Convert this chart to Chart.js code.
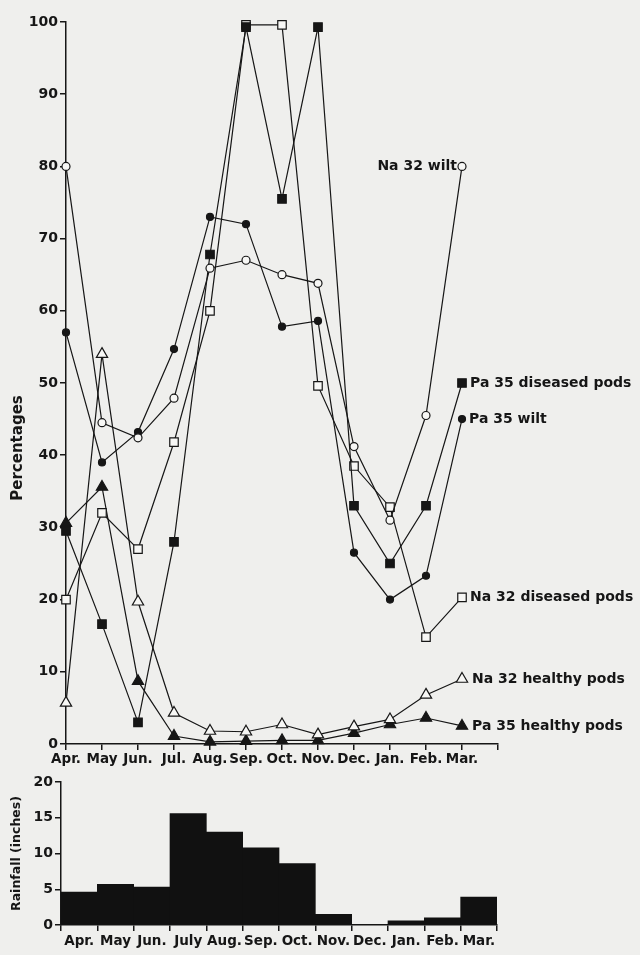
<!DOCTYPE html>
<html lang="en">
<head>
    <meta charset="UTF-8">
    <title>Wilt and pod disease with rainfall</title>
    <script src="https://cdn.jsdelivr.net/npm/chart.js@4"></script>
    <style>
        body { margin: 0; background: #efefed; }
        .chart-box { position: absolute; left: 0; }
        #boxTop { top: 0; }
        #boxBottom { top: 760px; }
    </style>
</head>
<body>
    <div class="chart-box" id="boxTop"><canvas id="chartPct" width="640" height="772"></canvas></div>
    <div class="chart-box" id="boxBottom"><canvas id="chartRain" width="640" height="195"></canvas></div>

    <script>
        const months = ["Apr.", "May", "Jun.", "Jul.", "Aug.", "Sep.", "Oct.", "Nov.", "Dec.", "Jan.", "Feb.", "Mar.", ""];
        const rainMonths = ["Apr.", "May", "Jun.", "July", "Aug.", "Sep.", "Oct.", "Nov.", "Dec.", "Jan.", "Feb.", "Mar."];

        const na32Wilt     = [80, 44.5, 42.4, 47.9, 65.9, 67, 65, 63.8, 41.2, 31, 45.5, 80];
        const pa35Wilt     = [57, 39, 43.2, 54.7, 73, 72, 57.8, 58.6, 26.5, 20, 23.3, 45];
        const pa35Diseased = [29.5, 16.6, 3, 28, 67.8, 99.3, 75.5, 99.3, 33, 25, 33, 50];
        const na32Diseased = [20, 32, 27, 41.8, 60, 99.6, 99.6, 49.6, 38.5, 32.8, 14.8, 20.3];
        const na32Healthy  = [5.7, 54, 19.7, 4.3, 1.8, 1.7, 2.7, 1.3, 2.4, 3.4, 6.8, 9];
        const pa35Healthy  = [30.6, 35.6, 8.7, 1.1, 0.3, 0.4, 0.5, 0.5, 1.5, 2.7, 3.6, 2.5];

        const rainfall = [4.6, 5.7, 5.3, 15.6, 13.0, 10.8, 8.6, 1.5, 0, 0.6, 1.0, 3.9];

        const ink = "#161616";
        const fam = "'DejaVu Sans', sans-serif";

        // series names written next to the last point
        const seriesLabels = {
            id: "seriesLabels",
            afterDatasetsDraw(chart) {
                const ctx = chart.ctx;
                ctx.save();
                ctx.font = "bold 14px " + fam;
                ctx.fillStyle = ink;
                ctx.textBaseline = "middle";
                chart.data.datasets.forEach((ds, i) => {
                    const pts = chart.getDatasetMeta(i).data;
                    const p = pts[pts.length - 1];
                    if (ds.labelLeft) {
                        ctx.textAlign = "right";
                        ctx.fillText(ds.label, p.x - ds.labelGap, p.y);
                    } else {
                        ctx.textAlign = "left";
                        ctx.fillText(ds.label, p.x + ds.labelGap, p.y);
                    }
                });
                ctx.restore();
            }
        };

        // rotated y title, centred on a chosen value
        const yTitle = {
            id: "yTitle",
            afterDraw(chart, args, opts) {
                const ctx = chart.ctx;
                const y = chart.scales.y.getPixelForValue(opts.at);
                ctx.save();
                ctx.translate(opts.x, y);
                ctx.rotate(-Math.PI / 2);
                ctx.font = "bold " + opts.size + "px " + fam;
                ctx.fillStyle = ink;
                ctx.textAlign = "center";
                ctx.textBaseline = "middle";
                ctx.fillText(opts.text, 0, 0);
                ctx.restore();
            }
        };

        function serie(label, data, style, fill, radius, gap, left) {
            return {
                label: label,
                data: data,
                borderColor: ink,
                borderWidth: 1.2,
                tension: 0,
                clip: false,
                pointStyle: style,
                pointRadius: radius,
                pointHoverRadius: radius,
                pointBorderWidth: 1.2,
                pointBorderColor: ink,
                pointBackgroundColor: fill ? ink : "#f7f7f5",
                labelGap: gap,
                labelLeft: !!left
            };
        }

        new Chart(document.getElementById("chartPct"), {
            type: "line",
            data: {
                labels: months,
                datasets: [
                    serie("Na 32 wilt", na32Wilt, "circle", false, 4, 5, true),
                    serie("Pa 35 wilt", pa35Wilt, "circle", true, 3.5, 7),
                    serie("Pa 35 diseased pods", pa35Diseased, "rect", true, 6, 8),
                    serie("Na 32 diseased pods", na32Diseased, "rect", false, 6, 8),
                    serie("Na 32 healthy pods", na32Healthy, "triangle", false, 6.5, 10),
                    serie("Pa 35 healthy pods", pa35Healthy, "triangle", true, 6.5, 10)
                ]
            },
            options: {
                responsive: false,
                animation: false,
                layout: { padding: { top: 22, right: 142, left: 0, bottom: 0 } },
                plugins: {
                    legend: { display: false },
                    tooltip: { enabled: false },
                    yTitle: { text: "Percentages", at: 41, x: 18, size: 15 }
                },
                scales: {
                    x: {
                        type: "category",
                        offset: false,
                        afterFit: s => { s.height = 28; },
                        border: { color: ink, width: 1.5 },
                        grid: { drawOnChartArea: false, tickLength: 6, color: ink, lineWidth: 1.5 },
                        ticks: { color: ink, autoSkip: false, maxRotation: 0, padding: 1, font: { family: fam, size: 13.5, weight: "bold" } }
                    },
                    y: {
                        min: 0,
                        max: 100,
                        afterFit: s => { s.width = 66; },
                        border: { color: ink, width: 1.5 },
                        grid: { drawOnChartArea: false, tickLength: 6, color: ink, lineWidth: 1.5 },
                        ticks: { stepSize: 10, color: ink, padding: 2, font: { family: fam, size: 14, weight: "bold" } }
                    }
                }
            },
            plugins: [seriesLabels, yTitle]
        });

        new Chart(document.getElementById("chartRain"), {
            type: "bar",
            data: {
                labels: rainMonths,
                datasets: [{
                    label: "Rainfall",
                    data: rainfall,
                    backgroundColor: "#111",
                    borderWidth: 0,
                    barPercentage: 1,
                    categoryPercentage: 1
                }]
            },
            options: {
                responsive: false,
                animation: false,
                layout: { padding: { top: 22, right: 143, left: 0, bottom: 0 } },
                plugins: {
                    legend: { display: false },
                    tooltip: { enabled: false },
                    yTitle: { text: "Rainfall (inches)", at: 10, x: 17, size: 12.5 }
                },
                scales: {
                    x: {
                        afterFit: s => { s.height = 30; },
                        border: { color: ink, width: 1.5 },
                        grid: { drawOnChartArea: false, tickLength: 6, color: ink, lineWidth: 1.5 },
                        ticks: { color: ink, autoSkip: false, maxRotation: 0, padding: 2, font: { family: fam, size: 13.5, weight: "bold" } }
                    },
                    y: {
                        min: 0,
                        max: 20,
                        afterFit: s => { s.width = 61; },
                        border: { color: ink, width: 1.5 },
                        grid: { drawOnChartArea: false, tickLength: 6, color: ink, lineWidth: 1.5 },
                        ticks: { stepSize: 5, color: ink, padding: 2, font: { family: fam, size: 14, weight: "bold" } }
                    }
                }
            },
            plugins: [yTitle]
        });
    </script>
</body>
</html>
